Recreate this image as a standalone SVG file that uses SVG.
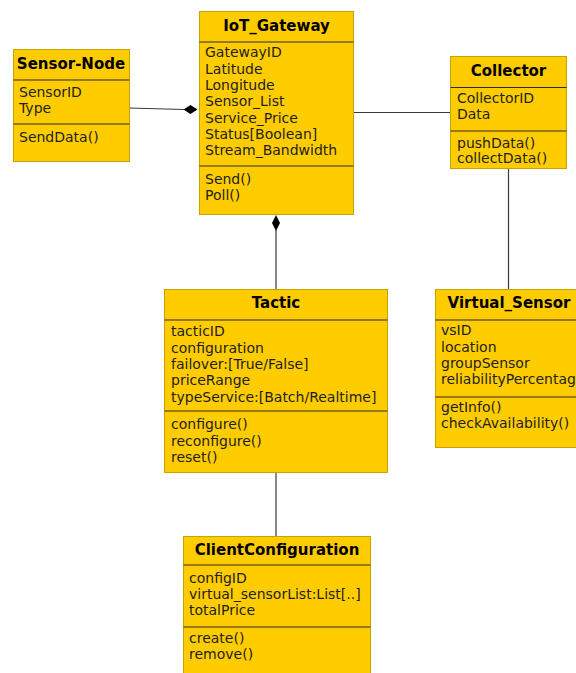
<svg xmlns="http://www.w3.org/2000/svg" width="576" height="673" viewBox="0 0 576 673">
  <style>
    .box { fill: #ffcc00; stroke: #c9a200; stroke-width: 1; }
    .sep { stroke: #2b2b2b; stroke-width: 1.2; }
    .title { font-family: "DejaVu Sans", sans-serif; font-size: 15px; font-weight: bold; fill: #000; text-anchor: middle; }
    .item { font-family: "DejaVu Sans", sans-serif; font-size: 14px; fill: #1e1e1e; }
    .link { stroke: #3a3a3a; stroke-width: 1.2; fill: none; }
    .diamond { fill: #000; stroke: none; }
  </style>
  <rect width="576" height="673" fill="#ffffff"/>

  <!-- associations -->
  <g id="connectors">
    <line class="link" x1="129" y1="108" x2="184" y2="109.5"/>
    <polygon class="diamond" points="183.5,109.5 190.5,105 197.5,109.5 190.5,114"/>
    <line class="link" x1="276" y1="230" x2="276" y2="289"/>
    <polygon class="diamond" points="276,215 280,223 276,231 272,223"/>
    <line class="link" x1="354" y1="112.5" x2="450.5" y2="112.5"/>
    <line class="link" x1="508.5" y1="169" x2="508.5" y2="289"/>
    <line class="link" x1="276" y1="473" x2="276" y2="536"/>
  </g>

  <!-- Sensor-Node -->
  <g id="sensor-node">
    <rect class="box" x="13.5" y="49.5" width="116" height="112"/>
    <line class="sep" x1="13.5" y1="80" x2="129.5" y2="80"/>
    <line class="sep" x1="13.5" y1="124" x2="129.5" y2="124"/>
    <text class="title" x="71" y="69">Sensor-Node</text>
    <text class="item" x="19" y="97">SensorID</text>
    <text class="item" x="19" y="113">Type</text>
    <text class="item" x="19" y="142">SendData()</text>
  </g>

  <!-- IoT_Gateway -->
  <g id="iot-gateway">
    <rect class="box" x="199.5" y="11.5" width="154" height="203"/>
    <line class="sep" x1="199.5" y1="42" x2="353.5" y2="42"/>
    <line class="sep" x1="199.5" y1="166" x2="353.5" y2="166"/>
    <text class="title" x="276.5" y="31">IoT_Gateway</text>
    <text class="item" x="205" y="57">GatewayID</text>
    <text class="item" x="205" y="74">Latitude</text>
    <text class="item" x="205" y="90">Longitude</text>
    <text class="item" x="205" y="106">Sensor_List</text>
    <text class="item" x="205" y="122.5">Service_Price</text>
    <text class="item" x="205" y="139">Status[Boolean]</text>
    <text class="item" x="205" y="155">Stream_Bandwidth</text>
    <text class="item" x="205" y="184">Send()</text>
    <text class="item" x="205" y="200">Poll()</text>
  </g>

  <!-- Collector -->
  <g id="collector">
    <rect class="box" x="450.5" y="56.5" width="116" height="112"/>
    <line class="sep" x1="450.5" y1="87.5" x2="566.5" y2="87.5"/>
    <line class="sep" x1="450.5" y1="131" x2="566.5" y2="131"/>
    <text class="title" x="508.5" y="76">Collector</text>
    <text class="item" x="457" y="103">CollectorID</text>
    <text class="item" x="457" y="119">Data</text>
    <text class="item" x="457" y="148">pushData()</text>
    <text class="item" x="457" y="163">collectData()</text>
  </g>

  <!-- Tactic -->
  <g id="tactic">
    <rect class="box" x="164.5" y="289.5" width="223" height="183"/>
    <line class="sep" x1="164.5" y1="320" x2="387.5" y2="320"/>
    <line class="sep" x1="164.5" y1="411" x2="387.5" y2="411"/>
    <text class="title" x="276" y="308">Tactic</text>
    <text class="item" x="171" y="336">tacticID</text>
    <text class="item" x="171" y="352.5">configuration</text>
    <text class="item" x="171" y="369">failover:[True/False]</text>
    <text class="item" x="171" y="385">priceRange</text>
    <text class="item" x="171" y="401.5">typeService:[Batch/Realtime]</text>
    <text class="item" x="171" y="429">configure()</text>
    <text class="item" x="171" y="446">reconfigure()</text>
    <text class="item" x="171" y="462">reset()</text>
  </g>

  <!-- Virtual_Sensor -->
  <g id="virtual-sensor">
    <rect class="box" x="435.5" y="289.5" width="147" height="158"/>
    <line class="sep" x1="435.5" y1="320" x2="582" y2="320"/>
    <line class="sep" x1="435.5" y1="397" x2="582" y2="397"/>
    <text class="title" x="509" y="308">Virtual_Sensor</text>
    <text class="item" x="441" y="335">vsID</text>
    <text class="item" x="441" y="351.5">location</text>
    <text class="item" x="441" y="368">groupSensor</text>
    <text class="item" x="441" y="384">reliabilityPercentage</text>
    <text class="item" x="441" y="411.5">getInfo()</text>
    <text class="item" x="441" y="428">checkAvailability()</text>
  </g>

  <!-- ClientConfiguration -->
  <g id="client-configuration">
    <rect class="box" x="183.5" y="536.5" width="187" height="140"/>
    <line class="sep" x1="183.5" y1="565" x2="370.5" y2="565"/>
    <line class="sep" x1="183.5" y1="627" x2="370.5" y2="627"/>
    <text class="title" x="277" y="555">ClientConfiguration</text>
    <text class="item" x="189" y="583">configID</text>
    <text class="item" x="189" y="599">virtual_sensorList:List[..]</text>
    <text class="item" x="189" y="614.5">totalPrice</text>
    <text class="item" x="189" y="643">create()</text>
    <text class="item" x="189" y="659">remove()</text>
  </g>
</svg>
